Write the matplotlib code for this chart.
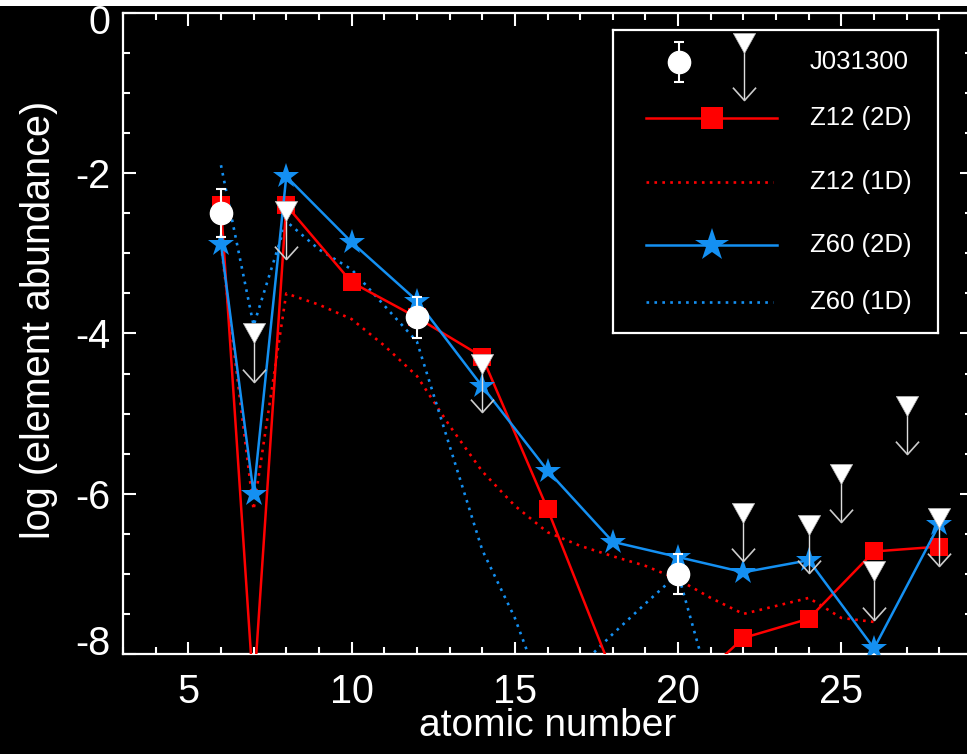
import matplotlib
matplotlib.use("Agg")
import matplotlib.pyplot as plt
from matplotlib.path import Path
from matplotlib.patches import Rectangle
from matplotlib.ticker import MultipleLocator
from matplotlib.transforms import ScaledTranslation

plt.rcParams['font.family'] = ['Liberation Sans', 'DejaVu Sans']
plt.rcParams['axes.unicode_minus'] = False

# J031300 measurements (with errors) and upper limits
obs_z = [6, 12, 20]
obs_val = [-2.5, -3.8, -7.0]
obs_err = [0.3, 0.25, 0.25]

lim_z = [7, 8, 14, 22, 24, 25, 26, 27, 28]
lim_val = [-4.0, -2.47, -4.38, -6.24, -6.39, -5.75, -6.97, -4.91, -6.3]

# 2D models, even Z plus nitrogen
model2d_z = [6, 7, 8, 10, 12, 14, 16, 18, 20, 22, 24, 26, 28]
z12_2d = [-2.4, -8.5, -2.4, -3.36, -3.8, -4.29, -6.19, -8.25, -8.55, -7.8, -7.56, -6.72, -6.66]
z60_2d = [-2.88, -6.0, -2.04, -2.86, -3.59, -4.66, -5.71, -6.6, -6.79, -6.98, -6.83, -7.93, -6.38]

# 1D models
z12_1d_z = list(range(6, 27))
z12_1d = [-2.9, -6.2, -3.5, -3.64, -3.82, -4.15, -4.53, -5.15, -5.72, -6.15, -6.48,
          -6.65, -6.78, -6.9, -7.07, -7.3, -7.5, -7.4, -7.3, -7.55, -7.6]
z60_1d_z = list(range(6, 22))
z60_1d = [-1.9, -3.9, -2.6, -2.95, -3.2, -3.65, -4.1, -5.4, -6.7, -7.55, -8.65,
          -8.15, -7.75, -7.37, -7.0, -8.45]

legend_labels = ['J031300', 'Z12 (2D)', 'Z12 (1D)', 'Z60 (2D)', 'Z60 (1D)']
y_ticks = [-8, -6, -4, -2, 0]

RED = '#ff0000'
BLUE = '#1490f2'
ARROW_LEN = 0.6
DOTS = (0, (1, 2))

# open V head with the tip at the marker centre
arrow_head = Path([(-0.9, 1.0), (0.0, 0.0), (0.9, 1.0)])
# downward triangle, a little flatter than 'v'
tri_down = Path([(-1.0, 0.9), (1.0, 0.9), (0.0, -0.9), (-1.0, 0.9)])


def upper_limit(ax, xs, ys, length):
    tips = [y - length for y in ys]
    ax.vlines(xs, tips, ys, color='#dddddd', lw=1.0, zorder=4)
    ax.plot(xs, tips, ls='none', marker=arrow_head, ms=18.5, mfc='none',
            mec='#cccccc', mew=1.2, zorder=4)
    ax.plot(xs, ys, ls='none', marker=tri_down, ms=16, mfc='white',
            mec='#bbbbbb', mew=0.5, zorder=5)


def style_box(ax):
    ax.set_facecolor('black')
    for s in ax.spines.values():
        s.set_color('white')
        s.set_linewidth(1.6)


fig = plt.figure(figsize=(9.67, 7.54), dpi=100)
fig.patch.set_facecolor('black')
fig.patches.append(Rectangle((0, 1 - 6 / 754), 1, 6 / 754, transform=fig.transFigure,
                             facecolor='white', edgecolor='none'))

ax = fig.add_axes([123 / 967, 100 / 754, 849 / 967, 641 / 754])
style_box(ax)

ax.plot(z12_1d_z, z12_1d, color=RED, lw=1.9, ls=DOTS, zorder=2)
ax.plot(z60_1d_z, z60_1d, color=BLUE, lw=1.9, ls=DOTS, zorder=2)
ax.plot(model2d_z, z12_2d, color=RED, lw=1.8, marker='s', ms=13, mew=0, zorder=3)
ax.plot(model2d_z, z60_2d, color=BLUE, lw=1.8, marker='*', ms=19, mew=0, zorder=3)

upper_limit(ax, lim_z, lim_val, ARROW_LEN)
ax.errorbar(obs_z, obs_val, yerr=obs_err, fmt='o', ms=16, mfc='white', mec='white',
            ecolor='white', elinewidth=1.5, capsize=3.5, capthick=1.5, zorder=6)

ax.set_xlim(3, 29)
ax.set_ylim(-8, 0)
ax.xaxis.set_major_locator(MultipleLocator(5))
ax.xaxis.set_minor_locator(MultipleLocator(1))
ax.set_yticks(y_ticks)
ax.yaxis.set_minor_locator(MultipleLocator(0.5))
ax.tick_params(which='both', direction='in', top=True, right=True, colors='white',
               width=1.5, labelsize=28.5)
ax.tick_params(which='major', length=9)
ax.tick_params(which='minor', length=5)
ax.tick_params(axis='x', pad=14)
ax.tick_params(axis='y', pad=9)

# end labels sit inside the axis range, like the original
yt = ax.yaxis.get_major_ticks()
yt[0].label1.set_transform(yt[0].label1.get_transform() + ScaledTranslation(0, 14 / 100, fig.dpi_scale_trans))
yt[-1].label1.set_transform(yt[-1].label1.get_transform() + ScaledTranslation(0, -6 / 100, fig.dpi_scale_trans))

ax.set_xlabel('atomic number', color='white', fontsize=28)
ax.set_ylabel('log (element abundance)', color='white', fontsize=28.5)
ax.xaxis.set_label_coords(0.5, -0.085)
ax.yaxis.set_label_coords(-0.077, 0.521)

# legend drawn by hand in its own box, coordinates in pixels of the box
lax = fig.add_axes([613 / 967, (754 - 333) / 754, 325 / 967, 303 / 754])
style_box(lax)
lax.set_xlim(613, 938)
lax.set_ylim(333, 30)
lax.set_xticks([])
lax.set_yticks([])

row_y = [62, 118, 182, 245, 302]
lax.errorbar([679], [row_y[0]], yerr=[20], fmt='o', ms=16, mfc='white', mec='white',
             ecolor='white', elinewidth=1.5, capsize=3.5, capthick=1.5)
lax.vlines([744], [43], [100], color='#dddddd', lw=1.0)
lax.plot([744], [100], ls='none', marker=arrow_head, ms=18.5, mfc='none', mec='#cccccc', mew=1.2)
lax.plot([744], [43], ls='none', marker=tri_down, ms=16, mfc='white', mec='#bbbbbb', mew=0.5)
lax.plot([646, 777], [row_y[1]] * 2, color=RED, lw=1.8)
lax.plot([712], [row_y[1]], color=RED, marker='s', ms=16.5, mew=0)
lax.plot([646, 773], [row_y[2]] * 2, color=RED, lw=1.9, ls=DOTS)
lax.plot([646, 777], [row_y[3]] * 2, color=BLUE, lw=1.8)
lax.plot([712], [row_y[3]], color=BLUE, marker='*', ms=25, mew=0)
lax.plot([646, 773], [row_y[4]] * 2, color=BLUE, lw=1.9, ls=DOTS)
for y, lab in zip(row_y, legend_labels):
    lax.text(810, y, lab, color='white', fontsize=18.5, va='center', ha='left')

fig.savefig('out.png', dpi=100, facecolor='black')
